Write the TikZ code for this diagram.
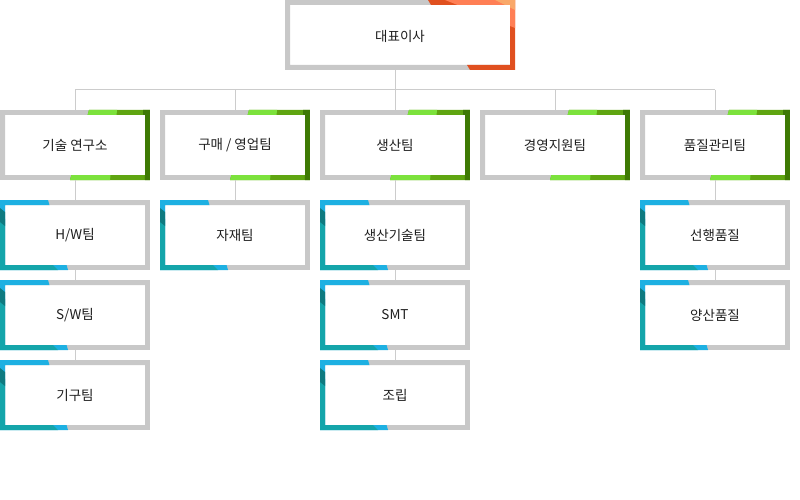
\documentclass[tikz,border=0pt]{standalone}
\usepackage{fontspec}
\setmainfont{Noto Sans CJK KR}
\definecolor{framegray}{HTML}{C8C8C8}
\definecolor{linkgray}{HTML}{CCCCCC}
\definecolor{textblack}{HTML}{1E1E1E}
\definecolor{orangedark}{HTML}{E0501F}
\definecolor{orangemid}{HTML}{FF7F55}
\definecolor{orangelight}{HTML}{F9A86A}
\definecolor{limelight}{HTML}{7CE23C}
\definecolor{limemid}{HTML}{5FA511}
\definecolor{limedark}{HTML}{3E7A04}
\definecolor{skyblue}{HTML}{1DB0E2}
\definecolor{teal}{HTML}{14A5AA}
\definecolor{tealdark}{HTML}{0E7A80}

\tikzset{
  link/.style={draw=linkgray, line width=1pt},
  orgbox/.style={inner sep=0pt, outer sep=0pt,
    minimum width=150pt, minimum height=70pt,
    font=\fontsize{13.5}{16}\selectfont, text=textblack},
  ceobox/.style={orgbox, minimum width=230pt},
  ceoframe/.pic={
    \begin{scope}[even odd rule]
      \clip (0,0) rectangle (230,70) (5,5) rectangle (225,65);
      \fill[framegray] (0,0) rectangle (230,70);
      \fill[orangedark] (143,0) -- (230,0) -- (230,70) -- (185,70) -- cycle;
      \fill[orangemid] (160,0) -- (230,0) -- (230,28) -- cycle;
      \fill[orangelight] (210,0) -- (230,0) -- (230,10) -- cycle;
    \end{scope}},
  deptframe/.pic={
    \begin{scope}[even odd rule]
      \clip (0,0) rectangle (150,70) (5,5) rectangle (145,65);
      \fill[framegray] (0,0) rectangle (150,70);
      \fill[limemid] (89,0) -- (150,0) -- (150,70) -- (70,70) -- cycle;
      \fill[limelight] (89,0) -- (117,0) -- (110,70) -- (70,70) -- cycle;
      \fill[limedark] (143,0) -- (150,0) -- (150,70) -- (145,70) -- cycle;
    \end{scope}},
  teamframe/.pic={
    \begin{scope}[even odd rule]
      \clip (0,0) rectangle (150,70) (5,5) rectangle (145,65);
      \fill[framegray] (0,0) rectangle (150,70);
      \fill[skyblue] (0,0) -- (48,0) -- (68,70) -- (0,70) -- cycle;
      \fill[teal] (0,14) -- (58,70) -- (0,70) -- cycle;
      \fill[tealdark] (0,8) -- (5,12) -- (5,26) -- (0,22) -- cycle;
    \end{scope}}
}

\begin{document}
\begin{tikzpicture}[x=1pt, y=-1pt]
  \useasboundingbox (0,0) rectangle (800,500);

  \node [ceobox] (ceo) at (400,36) {대표이사};

  \node [orgbox] (tech) at (75,145) {기술 연구소};
  \node [orgbox] (sales) at (235,145) {구매 / 영업팀};
  \node [orgbox] (prod) at (395,145) {생산팀};
  \node [orgbox] (mgmt) at (555,145) {경영지원팀};
  \node [orgbox] (quality) at (715,145) {품질관리팀};

  \node [orgbox] (hw) at (75,235) {H/W팀};
  \node [orgbox] (sw) at (75,315) {S/W팀};
  \node [orgbox] (mech) at (75,395) {기구팀};
  \node [orgbox] (material) at (235,235) {자재팀};
  \node [orgbox] (ptech) at (395,235) {생산기술팀};
  \node [orgbox] (smt) at (395,315) {SMT};
  \node [orgbox] (assembly) at (395,395) {조립};
  \node [orgbox] (advance) at (715,235) {선행품질};
  \node [orgbox] (mass) at (715,315) {양산품질};

  % frames
  \pic at ([yshift=1pt]ceo.north west) {ceoframe};
  \foreach \d in {tech,sales,prod,mgmt,quality}
    \pic at (\d.north west) {deptframe};
  \foreach \t in {hw,sw,mech,material,ptech,smt,assembly,advance,mass}
    \pic at (\t.north west) {teamframe};

  \coordinate (bus) at (395,90);
  \draw [link] ([yshift=1pt]ceo.south -| prod.north) -- (bus);
  \draw [link] (tech.north |- bus) -- (quality.north |- bus);
  \foreach \d in {tech,sales,prod,mgmt,quality}
    \draw [link] (\d.north |- bus) -- (\d.north);
  \foreach \a/\b in {tech/hw,hw/sw,sw/mech,sales/material,prod/ptech,ptech/smt,smt/assembly,quality/advance,advance/mass}
    \draw [link] (\a.south) -- (\b.north);
\end{tikzpicture}
\end{document}
